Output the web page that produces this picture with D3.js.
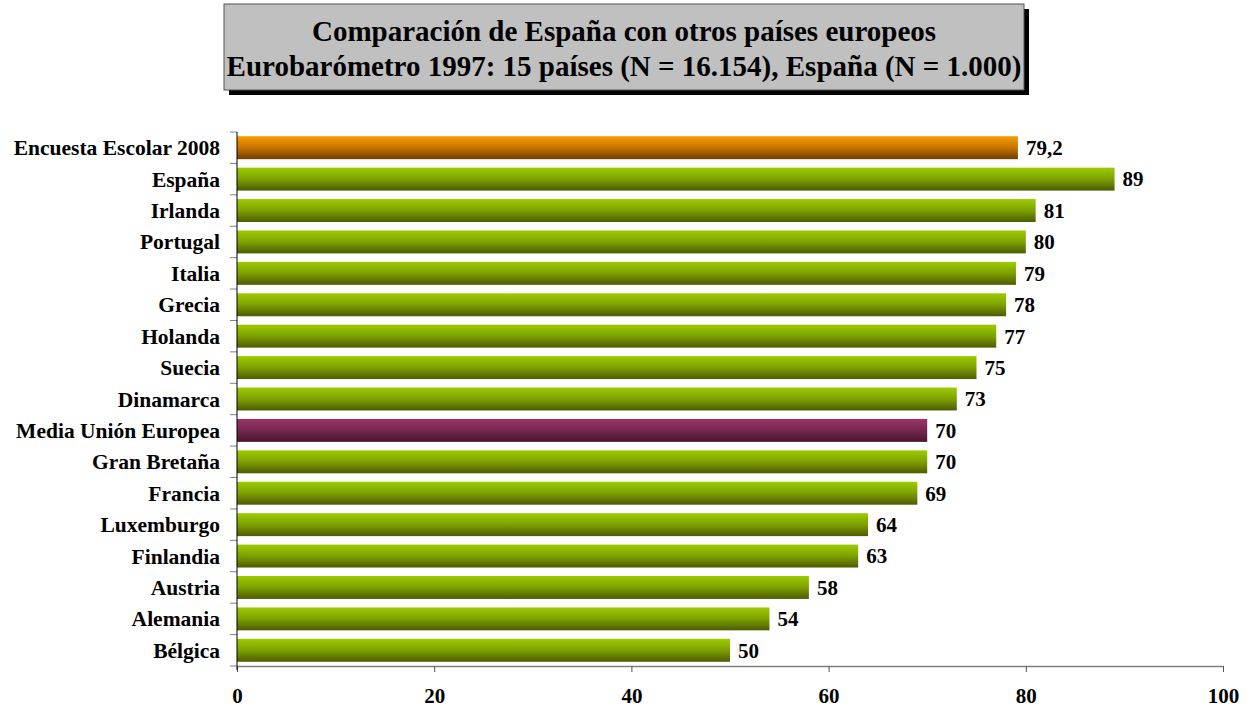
<!DOCTYPE html>
<html>
<head>
<meta charset="utf-8">
<script src="https://cdn.jsdelivr.net/npm/d3@7"></script>
<style>
  html, body { margin: 0; padding: 0; background: #ffffff; }
  svg { display: block; }
  text { font-family: "Liberation Serif", "Times New Roman", serif; font-weight: bold; }
</style>
</head>
<body>
<svg id="chart" width="1256" height="711"></svg>
<script>
// Survey results by country (top to bottom)
const categories = [
  "Encuesta Escolar 2008", "España", "Irlanda", "Portugal", "Italia", "Grecia",
  "Holanda", "Suecia", "Dinamarca", "Media Unión Europea", "Gran Bretaña",
  "Francia", "Luxemburgo", "Finlandia", "Austria", "Alemania", "Bélgica"
];
const values = [79.2, 89, 81, 80, 79, 78, 77, 75, 73, 70, 70, 69, 64, 63, 58, 54, 50];
const valueLabels = ["79,2", "89", "81", "80", "79", "78", "77", "75", "73", "70", "70", "69", "64", "63", "58", "54", "50"];
// Fill group of each bar: survey, EU average, or country
const groups = ["survey", "country", "country", "country", "country", "country",
  "country", "country", "country", "average", "country", "country", "country",
  "country", "country", "country", "country"];
const xTicks = [0, 20, 40, 60, 80, 100];
const titleLines = [
  "Comparación de España con otros países europeos",
  "Eurobarómetro 1997: 15 países (N = 16.154), España (N = 1.000)"
];

const svg = d3.select("#chart");

// Vertical gradients for the bars
const gradients = {
  survey:  ["#f79a00", "#c77400", "#6e3f00"],
  country: ["#9ccc00", "#7ea000", "#4b5c00"],
  average: ["#9c3468", "#74274f", "#47162d"]
};
const defs = svg.append("defs");
Object.entries(gradients).forEach(([key, stops]) => {
  const g = defs.append("linearGradient")
    .attr("id", "grad-" + key)
    .attr("x1", 0).attr("y1", 0).attr("x2", 0).attr("y2", 1);
  g.append("stop").attr("offset", "0%").attr("stop-color", stops[0]);
  g.append("stop").attr("offset", "50%").attr("stop-color", stops[1]);
  g.append("stop").attr("offset", "100%").attr("stop-color", stops[2]);
});

// Title box with drop shadow
const box = { x: 224, y: 4, w: 800, h: 86 };
svg.append("rect")
  .attr("x", box.x + 5).attr("y", box.y + 5)
  .attr("width", box.w).attr("height", box.h)
  .attr("fill", "#000");
svg.append("rect")
  .attr("x", box.x).attr("y", box.y)
  .attr("width", box.w).attr("height", box.h)
  .attr("fill", "#c0c0c0").attr("stroke", "#555").attr("stroke-width", 1);
svg.append("text")
  .attr("x", box.x + box.w / 2).attr("y", 41)
  .attr("text-anchor", "middle")
  .attr("font-size", 29)
  .text(titleLines[0]);
svg.append("text")
  .attr("x", box.x + box.w / 2).attr("y", 76)
  .attr("text-anchor", "middle")
  .attr("font-size", 29)
  .text(titleLines[1]);

// Plot area
const plot = { left: 237, right: 1223, top: 132, bottom: 666 };

const x = d3.scaleLinear().domain([0, 100]).range([plot.left, plot.right]);
const y = d3.scaleBand().domain(categories).range([plot.top, plot.bottom])
  .paddingInner(0.27).paddingOuter(0.135);
const band = d3.scaleBand().domain(categories).range([plot.top, plot.bottom]);

// Bars
svg.append("g")
  .selectAll("rect")
  .data(categories)
  .join("rect")
  .attr("x", x(0))
  .attr("y", d => y(d))
  .attr("width", (d, i) => x(values[i]) - x(0))
  .attr("height", y.bandwidth())
  .attr("fill", (d, i) => "url(#grad-" + groups[i] + ")");

// Value labels
svg.append("g")
  .selectAll("text")
  .data(categories)
  .join("text")
  .attr("x", (d, i) => x(values[i]) + 8)
  .attr("y", d => y(d) + y.bandwidth() / 2)
  .attr("dy", "0.35em")
  .attr("font-size", 21)
  .attr("fill", "#000")
  .text((d, i) => valueLabels[i]);

// Category labels
svg.append("g")
  .selectAll("text")
  .data(categories)
  .join("text")
  .attr("x", 220)
  .attr("y", d => band(d) + band.bandwidth() / 2)
  .attr("dy", "0.35em")
  .attr("text-anchor", "end")
  .attr("font-size", 21.5)
  .attr("fill", "#000")
  .text(d => d);

// Y axis ticks at band boundaries
const boundaries = categories.map(d => band(d)).concat([plot.bottom]);
svg.append("g")
  .selectAll("line")
  .data(boundaries)
  .join("line")
  .attr("x1", plot.left - 7).attr("x2", plot.left)
  .attr("y1", d => d).attr("y2", d => d)
  .attr("stroke", "#808080").attr("stroke-width", 1);

// X axis
const xAxis = d3.axisBottom(x).tickValues(xTicks).tickSize(6).tickSizeOuter(0).tickPadding(16);
const gx = svg.append("g")
  .attr("transform", `translate(0,${plot.bottom})`)
  .call(xAxis);
gx.select(".domain").attr("stroke", "#808080").attr("stroke-width", 1.5);
gx.selectAll(".tick line").attr("stroke", "#555");
gx.selectAll(".tick text")
  .attr("font-size", 21)
  .attr("font-family", "Liberation Serif, Times New Roman, serif")
  .attr("font-weight", "bold")
  .attr("fill", "#000");

// Y axis line
svg.append("line")
  .attr("x1", plot.left).attr("x2", plot.left)
  .attr("y1", plot.top).attr("y2", plot.bottom + 4)
  .attr("stroke", "#000").attr("stroke-width", 1);
</script>
</body>
</html>
